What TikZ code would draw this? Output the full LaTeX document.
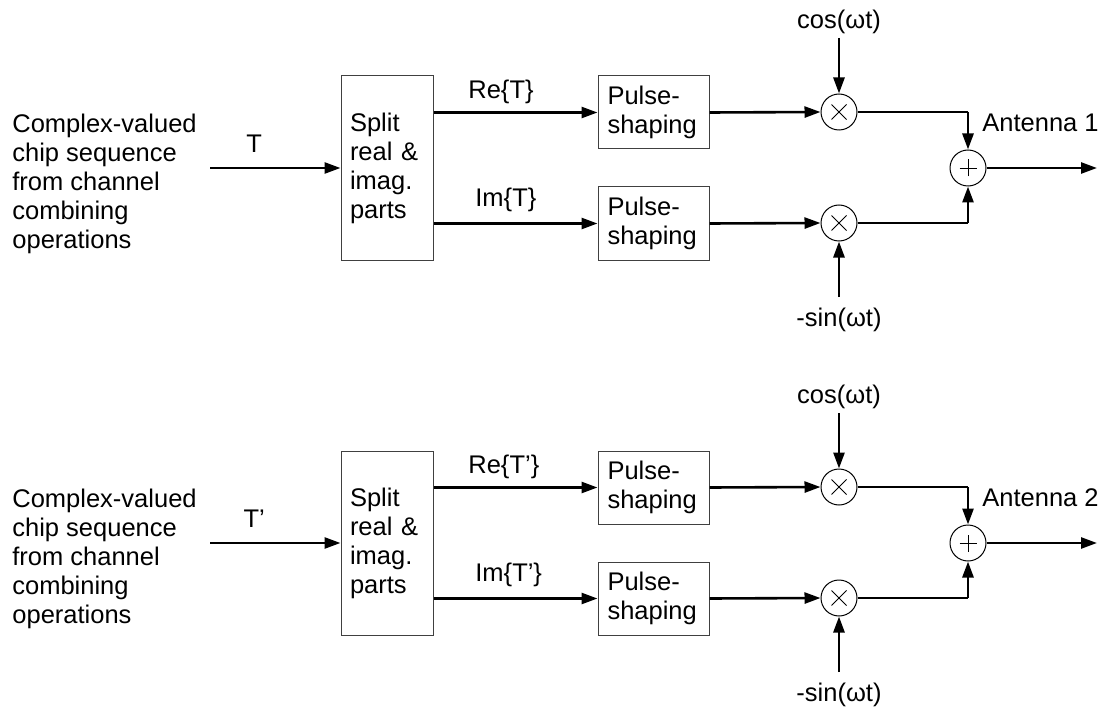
\documentclass[tikz,border=0pt]{standalone}
\usepackage{fontspec}
\setmainfont{Liberation Sans}
\usetikzlibrary{arrows.meta,positioning,calc}

\tikzset{
  sig/.style={line width=1.3pt,-{Triangle[length=8pt,width=5.5pt]}},
  wire/.style={line width=0.7pt},
  txt/.style={font=\fontsize{12.75}{14.5}\selectfont,inner sep=0pt},
  blockbox/.style={txt,draw=black!75,line width=0.5pt,align=left,inner ysep=0pt},
  mixer/.style={draw,circle,minimum size=18pt,inner sep=0pt,line width=0.5pt},
  mulnode/.style={mixer,path picture={
      \draw[line width=0.4pt]
        ([shift={(-3.75pt,-3.75pt)}]path picture bounding box.center) --
        ([shift={(3.75pt,3.75pt)}]path picture bounding box.center)
        ([shift={(-3.75pt,3.75pt)}]path picture bounding box.center) --
        ([shift={(3.75pt,-3.75pt)}]path picture bounding box.center);}},
  sumnode/.style={mixer,path picture={
      \draw[line width=0.4pt]
        ([xshift=-4.25pt]path picture bounding box.center) --
        ([xshift=4.25pt]path picture bounding box.center)
        ([yshift=-4.25pt]path picture bounding box.center) --
        ([yshift=4.25pt]path picture bounding box.center);}}
}

\begin{document}
\begin{tikzpicture}[x=0.5pt,y=-0.5pt]
\useasboundingbox (0,0) rectangle (1102,711);

\foreach \k/\s/\dy in {1//0,2/’/375}{
  \begin{scope}[shift={(0,\dy)}]
    % source text and input
    \node[txt,align=left,anchor=west] (src\k) at (12,183.5)
      {Complex-valued\\chip sequence\\from channel\\combining\\operations};
    \coordinate (tin\k) at (210,168);
    \node[blockbox,minimum width=46pt,minimum height=92pt,text width=37pt,inner xsep=4.5pt]
      (split\k) at (387,168) {Split\\real~\&\\imag.\\parts};
    \draw[sig] (tin\k) -- node[txt,above=7pt,xshift=-10.5pt] {T\s} (split\k.west);

    % pulse shaping branches
    \node[blockbox,minimum width=55.5pt,minimum height=36.5pt,text width=46pt,inner xsep=4.75pt]
      (pulseA\k) at (653.5,112.5) {Pulse-\\shaping};
    \node[blockbox,minimum width=55.5pt,minimum height=36.5pt,text width=46pt,inner xsep=4.75pt]
      (pulseB\k) at (653.5,223.5) {Pulse-\\shaping};
    \draw[sig] (split\k.east |- pulseA\k.west) -- (pulseA\k.west);
    \draw[sig] (split\k.east |- pulseB\k.west) -- (pulseB\k.west);
    \node[txt,anchor=west] (re\k) at (468,92) {Re\{T\s\}};
    \node[txt,anchor=west] (im\k) at (475,200) {Im\{T\s\}};

    % mixers
    \node[mulnode] (mulA\k) at (839,112) {};
    \node[mulnode] (mulB\k) at (839,223) {};
    \draw[sig] (pulseA\k.east) -- (mulA\k.west);
    \draw[sig] (pulseB\k.east) -- (mulB\k.west);
    \node[txt] (cos\k) at (839,22) {cos(ωt)};
    \node[txt] (sin\k) at (839,320) {-sin(ωt)};
    \coordinate (cosin\k) at (839,38);
    \coordinate (sinin\k) at (839,297);
    \draw[sig] (cosin\k) -- (mulA\k.north);
    \draw[sig] (sinin\k) -- (mulB\k.south);

    % summation and output
    \node[sumnode] (sum\k) at (968,168) {};
    \coordinate (corA\k) at (sum\k |- mulA\k);
    \coordinate (corB\k) at (sum\k |- mulB\k);
    \draw[wire] (mulA\k.east) -- (corA\k);
    \draw[wire] (mulB\k.east) -- (corB\k);
    \draw[sig] (corA\k) -- (sum\k.north);
    \draw[sig] (corB\k) -- (sum\k.south);
    \coordinate (out\k) at (1097,168);
    \draw[sig] (sum\k.east) -- (out\k);
    \node[txt,anchor=west] (ant\k) at (982,123) {Antenna \k};
  \end{scope}
}
\end{tikzpicture}
\end{document}
